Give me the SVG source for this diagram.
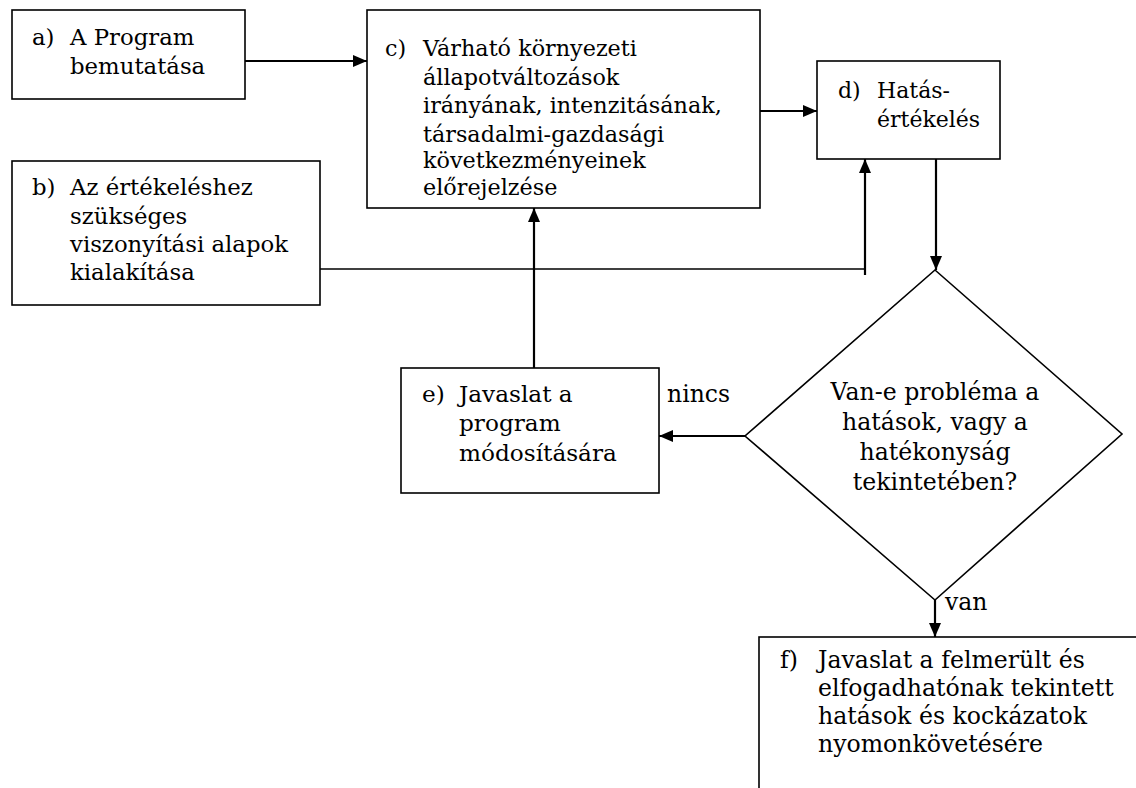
<svg xmlns="http://www.w3.org/2000/svg" width="1136" height="788" viewBox="0 0 1136 788">
<style>
.box{fill:#fff;stroke:#000;stroke-width:1.6}
.t{font-family:"DejaVu Serif","Liberation Serif",serif;font-size:22.8px;fill:#000}
.c{stroke:#000;stroke-width:2.2;fill:none}
</style>
<defs>
<marker id="ah" viewBox="0 0 14 12" refX="14" refY="6" markerWidth="14" markerHeight="12" markerUnits="userSpaceOnUse" orient="auto">
<path d="M0,0 L14,6 L0,12 Z" fill="#000"/>
</marker>
</defs>
<rect width="1136" height="788" fill="#fff"/>
<g id="connectors">
<line class="c" x1="245" y1="61" x2="367" y2="61" marker-end="url(#ah)"/>
<line class="c" x1="760" y1="111" x2="817" y2="111" marker-end="url(#ah)"/>
<line class="c" x1="320" y1="269" x2="865" y2="269" style="stroke-width:1.6"/>
<line class="c" x1="865" y1="275" x2="865" y2="159" marker-end="url(#ah)"/>
<line class="c" x1="936" y1="159" x2="936" y2="270" marker-end="url(#ah)"/>
<line class="c" x1="745" y1="436" x2="659" y2="436" marker-end="url(#ah)"/>
<line class="c" x1="534" y1="368" x2="534" y2="208" marker-end="url(#ah)"/>
<line class="c" x1="935" y1="600" x2="935" y2="637" marker-end="url(#ah)"/>
<text class="t" x="667" y="402" style="font-size:23.5px">nincs</text>
<text class="t" x="945" y="610" style="font-size:23.5px">van</text>
</g>
<g id="node-a">
<rect class="box" x="12" y="10" width="233" height="89"/>
<text class="t" x="32" y="45">a)</text>
<text class="t" x="70" y="45">A Program</text>
<text class="t" x="70" y="74">bemutatása</text>
</g>
<g id="node-b">
<rect class="box" x="12" y="161" width="308" height="144"/>
<text class="t" x="32" y="195">b)</text>
<text class="t" x="70" y="195">Az értékeléshez</text>
<text class="t" x="70" y="224">szükséges</text>
<text class="t" x="70" y="252">viszonyítási alapok</text>
<text class="t" x="70" y="280">kialakítása</text>
</g>
<g id="node-c" style="font-size:22.3px">
<rect class="box" x="367" y="10" width="393" height="198"/>
<text class="t" x="385" y="56" style="font-size:22.3px">c)</text>
<text class="t" x="423" y="56" style="font-size:22.3px">Várható környezeti</text>
<text class="t" x="423" y="85" style="font-size:22.3px">állapotváltozások</text>
<text class="t" x="423" y="113" style="font-size:22.3px">irányának, intenzitásának,</text>
<text class="t" x="423" y="142" style="font-size:22.3px">társadalmi-gazdasági</text>
<text class="t" x="423" y="168" style="font-size:22.3px">következményeinek</text>
<text class="t" x="423" y="195" style="font-size:22.3px">előrejelzése</text>
</g>
<g id="node-d">
<rect class="box" x="817" y="61" width="183" height="98"/>
<text class="t" x="838" y="98" style="font-size:22px">d)</text>
<text class="t" x="877" y="98" style="font-size:22px">Hatás-</text>
<text class="t" x="877" y="127" style="font-size:22px">értékelés</text>
</g>
<g id="node-decision">
<polygon class="box" points="935,270 1122,434 935,600 745,436"/>
<text class="t" x="935" y="400" text-anchor="middle" style="font-size:23.6px">Van-e probléma a</text>
<text class="t" x="935" y="430" text-anchor="middle" style="font-size:23.6px">hatások, vagy a</text>
<text class="t" x="935" y="460" text-anchor="middle" style="font-size:23.6px">hatékonyság</text>
<text class="t" x="935" y="490" text-anchor="middle" style="font-size:23.6px">tekintetében?</text>
</g>
<g id="node-e">
<rect class="box" x="401" y="368" width="258" height="125"/>
<text class="t" x="422" y="402" style="font-size:23.2px">e)</text>
<text class="t" x="459" y="402" style="font-size:23.2px">Javaslat a</text>
<text class="t" x="459" y="431" style="font-size:23.2px">program</text>
<text class="t" x="459" y="461" style="font-size:23.2px">módosítására</text>
</g>
<g id="node-f">
<rect class="box" x="759" y="637" width="400" height="200"/>
<text class="t" x="780" y="668" style="font-size:23.6px">f)</text>
<text class="t" x="818" y="668" style="font-size:23.6px">Javaslat a felmerült és</text>
<text class="t" x="818" y="696" style="font-size:23.6px">elfogadhatónak tekintett</text>
<text class="t" x="818" y="724" style="font-size:23.6px">hatások és kockázatok</text>
<text class="t" x="818" y="752" style="font-size:23.6px">nyomonkövetésére</text>
</g>
</svg>
